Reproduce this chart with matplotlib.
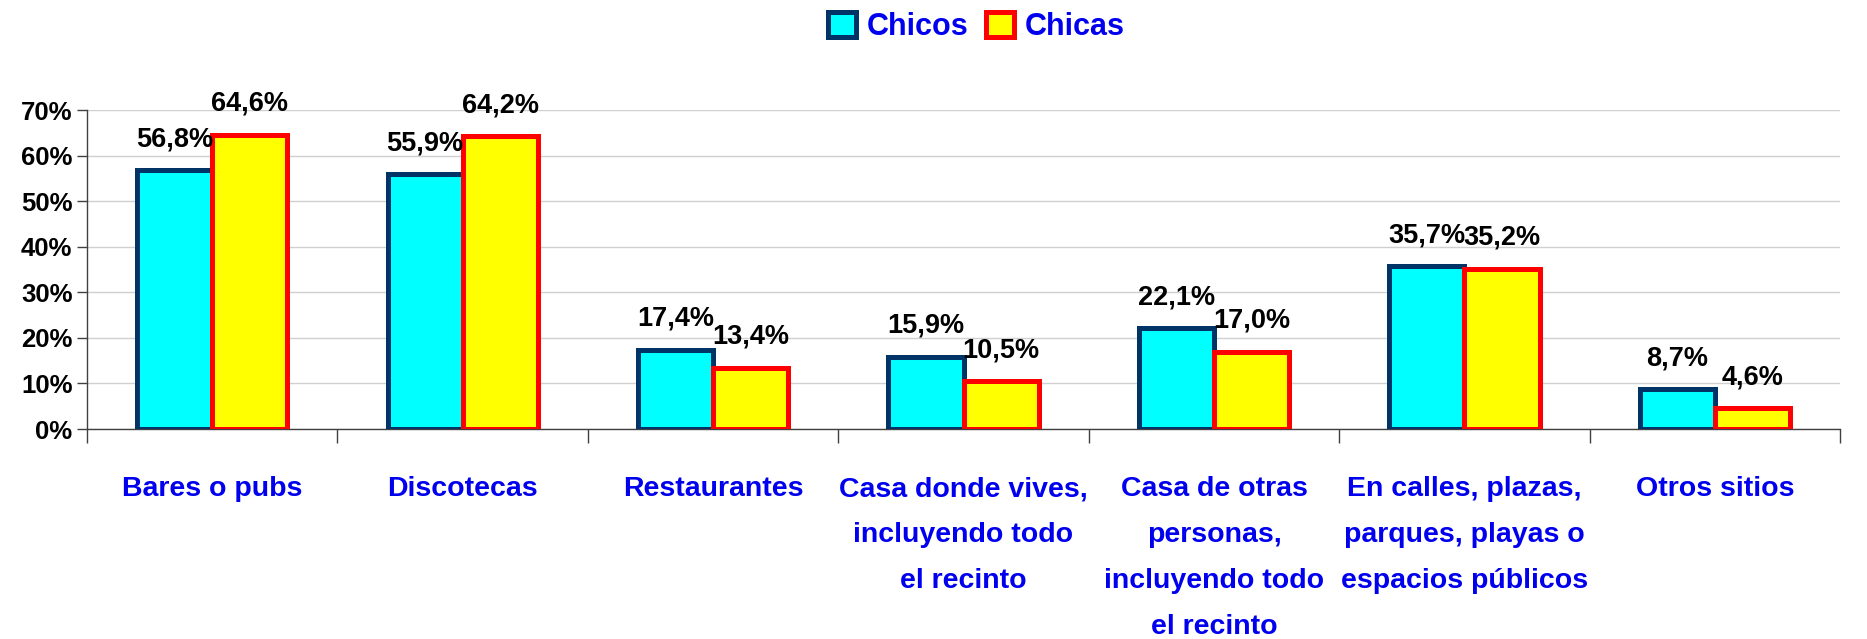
import matplotlib
matplotlib.use("Agg")
import matplotlib.pyplot as plt
import numpy as np
from matplotlib.ticker import PercentFormatter

# data
categories = [
    "Bares o pubs",
    "Discotecas",
    "Restaurantes",
    "Casa donde vives,\nincluyendo todo\nel recinto",
    "Casa de otras\npersonas,\nincluyendo todo\nel recinto",
    "En calles, plazas,\nparques, playas o\nespacios públicos",
    "Otros sitios",
]
chicos = [56.8, 55.9, 17.4, 15.9, 22.1, 35.7, 8.7]
chicas = [64.6, 64.2, 13.4, 10.5, 17.0, 35.2, 4.6]
series_names = ["Chicos", "Chicas"]

FONT = ["Liberation Sans", "DejaVu Sans"]
plt.rcParams["font.family"] = FONT
plt.rcParams["font.weight"] = "bold"

fig = plt.figure(figsize=(18.67, 6.39), dpi=100)
ax = fig.add_axes([0.0466, 0.3286, 0.939, 0.4992])

x = np.arange(len(categories))
w = 0.3
b1 = ax.bar(x - w / 2, chicos, w, color="#00ffff", edgecolor="#003366",
            linewidth=3.6, label=series_names[0], zorder=3)
b2 = ax.bar(x + w / 2, chicas, w, color="#ffff00", edgecolor="#ff0000",
            linewidth=3.6, label=series_names[1], zorder=3)

for bars in (b1, b2):
    for r in bars:
        v = r.get_height()
        ax.annotate(f"{v:.1f}%".replace(".", ","),
                    (r.get_x() + r.get_width() / 2, v),
                    xytext=(0, 13), textcoords="offset points",
                    ha="center", va="bottom", fontsize=19.5,
                    fontweight="bold", color="black")

ax.set_ylim(0, 70)
ax.set_xlim(-0.5, len(categories) - 0.5)
ax.set_yticks(np.arange(0, 71, 10))
ax.yaxis.set_major_formatter(PercentFormatter(decimals=0))
ax.tick_params(axis="y", labelsize=18.5, length=7, width=1, color="#404040")
ax.grid(axis="y", color="#d0d0d0", linewidth=1, zorder=0)

# category labels centred, ticks on the boundaries
ax.set_xticks(x)
ax.set_xticklabels(categories, fontsize=20.5, color="#0000ee",
                   linespacing=2.0, va="top")
ax.tick_params(axis="x", length=0, pad=34)
ax.set_xticks(np.arange(-0.5, len(categories), 1), minor=True)
ax.tick_params(axis="x", which="minor", length=10, width=1, color="#404040")

for s in ("top", "right"):
    ax.spines[s].set_visible(False)
for s in ("left", "bottom"):
    ax.spines[s].set_color("#404040")
    ax.spines[s].set_linewidth(1)

leg = fig.legend(loc="center", bbox_to_anchor=(0.523, 0.958), ncol=2,
                 frameon=False, fontsize=22, handlelength=0.9,
                 handleheight=0.9, handletextpad=0.35, columnspacing=0.6)
for t in leg.get_texts():
    t.set_color("#0000ee")
    t.set_fontweight("bold")

fig.savefig("out.png", dpi=100, facecolor="white")
